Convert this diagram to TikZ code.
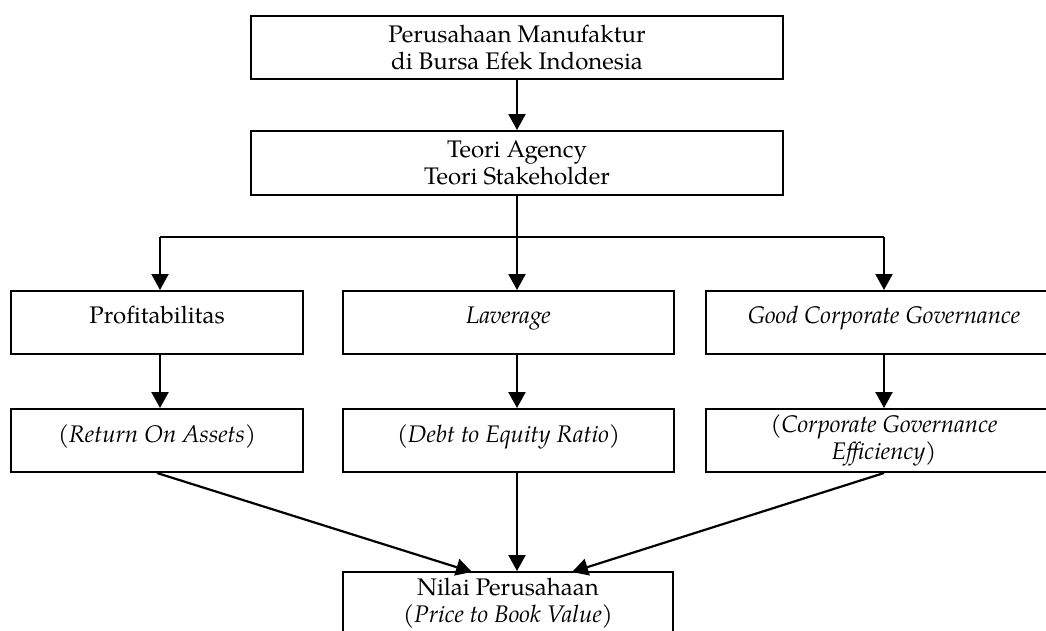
\documentclass[tikz,border=0pt]{standalone}
\usepackage{fontspec}
\setmainfont{TeX Gyre Pagella}
\usetikzlibrary{arrows.meta}
\tikzset{
  box/.style={draw, line width=2pt, inner sep=0pt, align=center,
              font=\fontsize{24}{26.5}\selectfont},
  onebox/.style={draw, line width=2pt, inner sep=0pt,
              font=\fontsize{24}{26.5}\selectfont},
  arr/.style={line width=2.2pt, -{Triangle[width=17pt,length=16pt]}},
  ln/.style={line width=2.2pt},
}
\begin{document}
\begin{tikzpicture}[x=1pt,y=-1pt]
\useasboundingbox (0,0) rectangle (1046,630);
% nodes
\node[box, minimum width=532pt, minimum height=63pt] (top) at (517,47.5)
  {Perusahaan Manufaktur\\di Bursa Efek Indonesia};
\node[box, minimum width=532pt, minimum height=64pt] (teori) at (517,163)
  {Teori Agency\\Teori Stakeholder};
\node[onebox, minimum width=292pt, text height=32.5pt, text depth=30.5pt] (b1) at (157,322.5)
  {Profitabilitas};
\node[onebox, minimum width=331pt, text height=32.5pt, text depth=30.5pt] (b2) at (508.5,322.5)
  {\textit{Laverage}};
\node[onebox, minimum width=356pt, text height=32.5pt, text depth=30.5pt] (b3) at (884,322.5)
  {\textit{Good Corporate Governance}};
\node[onebox, minimum width=292pt, text height=33pt, text depth=30pt] (c1) at (157,440.5)
  {(\textit{Return On Assets})};
\node[onebox, minimum width=331pt, text height=33pt, text depth=30pt] (c2) at (508.5,440.5)
  {(\textit{Debt to Equity Ratio})};
\node[box, minimum width=356pt, minimum height=63pt] (c3) at (884,440.5)
  {(\textit{Corporate Governance}\\\textit{Efficiency})};
\node[box, minimum width=330pt, minimum height=62pt] (nilai) at (508,603)
  {Nilai Perusahaan\\(\textit{Price to Book Value})};
% coordinates
\coordinate (jl) at (160,237);
\coordinate (jm) at (517,237);
\coordinate (jr) at (884,237);
\coordinate (inL) at (472,572);
\coordinate (inR) at (572,572);
% connectors
\draw[arr] (top) -- (teori);
\draw[arr] (teori.south) -- (teori.south |- b2.north);
\draw[ln] (jl) -- (jr);
\draw[arr] (jl) -- (jl |- b1.north);
\draw[arr] (jr) -- (jr |- b3.north);
\draw[arr] (b1.south -| jl) -- (c1.north -| jl);
\draw[arr] (b2.south -| jm) -- (c2.north -| jm);
\draw[arr] (b3.south -| jr) -- (c3.north -| jr);
\draw[arr] (c1.south) -- (inL);
\draw[arr] (c2.south -| jm) -- (nilai.north -| jm);
\draw[arr] (c3.south) -- (inR);
\end{tikzpicture}
\end{document}
